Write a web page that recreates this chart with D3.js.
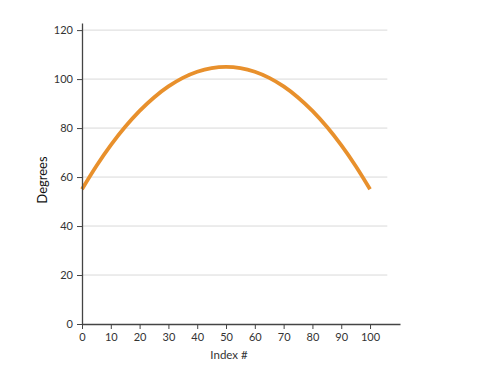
<!DOCTYPE html>
<html>
<head>
<meta charset="utf-8">
<script src="https://cdn.jsdelivr.net/npm/d3@7"></script>
<style>
  body { margin: 0; background: #fff; }
  svg { display: block; font-family: Lato, "Open Sans", sans-serif; }
</style>
</head>
<body>
<svg id="chart" width="500" height="386"></svg>
<script>
const indexValues = [0, 5, 10, 15, 20, 25, 30, 35, 40, 45, 50, 55, 60, 65, 70, 75, 80, 85, 90, 95, 100];
const degreeValues = [55, 64.5, 73, 80.5, 87, 92.5, 97, 100.5, 103, 104.5, 105, 104.5, 103, 100.5, 97, 92.5, 87, 80.5, 73, 64.5, 55];
const xTicks = [0, 10, 20, 30, 40, 50, 60, 70, 80, 90, 100];
const yTicks = [0, 20, 40, 60, 80, 100, 120];
const xLabel = "Index #";
const yLabel = "Degrees";

const data = indexValues.map((x, i) => ({ x, y: degreeValues[i] }));
const svg = d3.select("#chart");

const x = d3.scaleLinear().domain([0, 110.4]).range([82, 400]);
const y = d3.scaleLinear().domain([0, 122.9]).range([324, 23]);

// gridlines
svg.append("g").selectAll("line")
  .data(yTicks.filter(d => d > 0))
  .join("line")
  .attr("x1", x(0)).attr("x2", x(106))
  .attr("y1", d => y(d)).attr("y2", d => y(d))
  .attr("stroke", "#d9d9d9").attr("stroke-width", 1);

// line
svg.append("path")
  .datum(data)
  .attr("fill", "none")
  .attr("stroke", "#E8902C")
  .attr("stroke-width", 3.8)
  .attr("d", d3.line().x(d => x(d.x)).y(d => y(d.y)).curve(d3.curveCatmullRom.alpha(0.5)));

// axes
const xAxis = svg.append("g")
  .attr("transform", `translate(0,${y(0)})`)
  .call(d3.axisBottom(x).tickValues(xTicks).tickSize(5).tickSizeOuter(0).tickPadding(4));
const yAxis = svg.append("g")
  .attr("transform", `translate(${x(0)},0)`)
  .call(d3.axisLeft(y).tickValues(yTicks).tickSize(5).tickSizeOuter(0).tickPadding(4));

[xAxis, yAxis].forEach(g => {
  g.select(".domain").attr("stroke", "#444").attr("stroke-width", 1.3);
  g.selectAll(".tick line").attr("stroke", "#444");
  g.selectAll(".tick text").attr("fill", "#333").style("font-size", "11px").style("font-family", "Lato, sans-serif");
});

svg.append("text")
  .attr("x", 229).attr("y", 359)
  .attr("text-anchor", "middle")
  .attr("fill", "#333")
  .style("font-size", "11.5px")
  .text(xLabel);

svg.append("text")
  .attr("transform", `translate(47,180) rotate(-90)`)
  .attr("text-anchor", "middle")
  .attr("fill", "#111")
  .style("font-size", "13px")
  .text(yLabel);
</script>
</body>
</html>
